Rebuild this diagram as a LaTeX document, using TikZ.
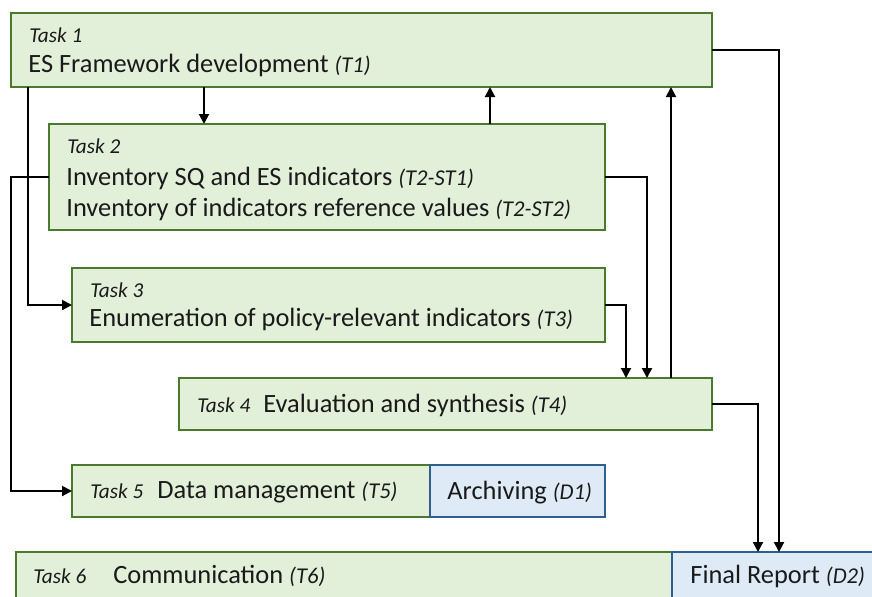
\documentclass[tikz,border=0pt]{standalone}
\usepackage{fontspec}
\setmainfont{Carlito}
\usetikzlibrary{arrows.meta}
\definecolor{gfill}{HTML}{E2EFD9}
\definecolor{gline}{HTML}{4A7A2C}
\definecolor{bfill}{HTML}{DEEBF7}
\definecolor{bline}{HTML}{2F5F8F}
\definecolor{txt}{HTML}{1A1A1A}
\newcommand{\mainsz}{\fontsize{13.2}{15}\selectfont}
\newcommand{\tk}[1]{{\fontsize{10.6}{12}\selectfont\itshape #1}}
\newcommand{\cd}[1]{{\fontsize{11.3}{12}\selectfont\itshape #1}}
\begin{document}
\begin{tikzpicture}[x=0.5pt,y=-0.5pt,
  gbox/.style={draw=gline,fill=gfill,line width=1pt,inner sep=0pt,outer sep=0pt,anchor=north west},
  bbox/.style={draw=bline,fill=bfill,line width=1pt,inner sep=0pt,outer sep=0pt,anchor=north west},
  lbl/.style={anchor=base west,inner sep=0pt,text=txt,font=\mainsz},
  arr/.style={line width=1pt,-{Triangle[length=5pt,width=5pt]}},
  ln/.style={line width=1pt}]
\useasboundingbox (0,0) rectangle (872,596);
\clip (0,0) rectangle (872,596);
% boxes
\node[gbox,minimum width=350.5pt,minimum height=37pt] (t1) at (11,13) {};
\node[gbox,minimum width=278pt,minimum height=53pt] (t2) at (49,124) {};
\node[gbox,minimum width=266.5pt,minimum height=37pt] (t3) at (72,268) {};
\node[gbox,minimum width=266.5pt,minimum height=26pt] (t4) at (179,378) {};
\node[gbox,minimum width=179pt,minimum height=26pt] (t5) at (72,465) {};
\node[bbox,minimum width=87.5pt,minimum height=26pt] (d1) at (430,465) {};
\node[gbox,minimum width=328pt,minimum height=34pt] (t6) at (16,552) {};
\node[bbox,minimum width=109pt,minimum height=34pt] (d2) at (672,552) {};
% texts
\node[lbl] (t1a) at (29,42) {\tk{Task 1}};
\node[lbl] (t1b) at (28,72) {ES Framework development \cd{(T1)}};
\node[lbl] (t2a) at (67,153) {\tk{Task 2}};
\node[lbl] (t2b) at (66,185) {Inventory SQ and ES indicators \cd{(T2-ST1)}};
\node[lbl] (t2c) at (66,216) {Inventory of indicators reference values \cd{(T2-ST2)}};
\node[lbl] (t3a) at (90,297) {\tk{Task 3}};
\node[lbl] (t3b) at (89,326) {Enumeration of policy-relevant indicators \cd{(T3)}};
\node[lbl] (t4a) at (197,412) {\tk{Task 4}};
\node[lbl] (t4b) at (263,412) {Evaluation and synthesis \cd{(T4)}};
\node[lbl] (t5a) at (90,498) {\tk{Task 5}};
\node[lbl] (t5b) at (157,498) {Data management \cd{(T5)}};
\node[lbl] (d1a) at (447,499) {Archiving \cd{(D1)}};
\node[lbl] (t6a) at (33,583) {\tk{Task 6}};
\node[lbl] (t6b) at (113,583) {Communication \cd{(T6)}};
\node[lbl] (d2a) at (690,583) {Final Report \cd{(D2)}};
% connector x positions
\coordinate (x11) at (11,0);
\coordinate (x28) at (28,0);
\coordinate (x204) at (204,0);
\coordinate (x490) at (490,0);
\coordinate (x626) at (626,0);
\coordinate (x647) at (647,0);
\coordinate (x671) at (671,0);
\coordinate (x758) at (758,0);
\coordinate (x779) at (779,0);
% connectors
\draw[arr] (t1.south -| x204) -- (t2.north -| x204);
\draw[arr] (t2.north -| x490) -- (t1.south -| x490);
\draw[arr] (t4.north -| x671) -- (t1.south -| x671);
\draw[arr] (t1.east) -| (x779 |- d2.north);
\draw[arr] (t2.east) -| (x647 |- t4.north);
\draw[arr] (t3.east) -| (x626 |- t4.north);
\draw[arr] (t4.east) -| (x758 |- d2.north);
\draw[arr] (t1.south -| x28) |- (t3.west);
\draw[arr] (t2.west) -- (x11 |- t2.west) |- (t5.west);
\end{tikzpicture}
\end{document}
